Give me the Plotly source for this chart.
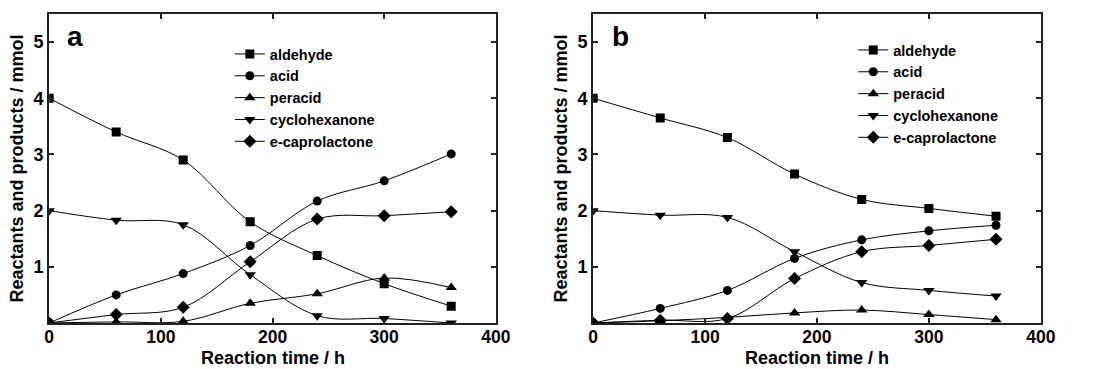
import plotly.graph_objects as go

time_h = [0, 60, 120, 180, 240, 300, 360]
series_names = ["aldehyde", "acid", "peracid", "cyclohexanone", "e-caprolactone"]

a_aldehyde = [4.0, 3.4, 2.9, 1.8, 1.2, 0.7, 0.3]
a_acid = [0.0, 0.5, 0.88, 1.38, 2.17, 2.53, 3.01]
a_peracid = [0.0, 0.02, 0.03, 0.35, 0.52, 0.8, 0.63]
a_cyclohexanone = [2.0, 1.83, 1.75, 0.86, 0.13, 0.08, 0.0]
a_caprolactone = [0.0, 0.15, 0.28, 1.09, 1.85, 1.91, 1.98]

b_aldehyde = [4.0, 3.65, 3.3, 2.65, 2.2, 2.04, 1.9]
b_acid = [0.0, 0.26, 0.58, 1.15, 1.48, 1.64, 1.74]
b_peracid = [0.0, 0.04, 0.1, 0.18, 0.23, 0.15, 0.06]
b_cyclohexanone = [2.0, 1.92, 1.88, 1.27, 0.72, 0.58, 0.48]
b_caprolactone = [0.0, 0.05, 0.08, 0.79, 1.27, 1.38, 1.49]

x_ticks = [0, 100, 200, 300, 400]
y_ticks = [1, 2, 3, 4, 5]

symbols = ["square", "circle", "triangle-up", "triangle-down", "diamond"]
sizes = [9, 9, 10, 10, 10]

FONT = "Liberation Sans, Arial, sans-serif"
TITLE_FONT = dict(family=FONT, size=18, color="black", weight="bold")

fig = go.Figure()

panels = [
    ("x", "y", "legend", [a_aldehyde, a_acid, a_peracid, a_cyclohexanone, a_caprolactone]),
    ("x2", "y2", "legend2", [b_aldehyde, b_acid, b_peracid, b_cyclohexanone, b_caprolactone]),
]
for xa, ya, lg, data in panels:
    for name, vals, sym, sz in zip(series_names, data, symbols, sizes):
        fig.add_trace(go.Scatter(
            x=time_h, y=vals, name=name, xaxis=xa, yaxis=ya, legend=lg,
            mode="lines+markers",
            line=dict(color="black", width=1, shape="spline", smoothing=1.0),
            marker=dict(symbol=sym, size=sz, color="black"),
        ))

ydom = [1 - 323 / 369, 1 - 14 / 369]
axis_common = dict(
    showline=True, linecolor="#222", linewidth=2, mirror="ticks",
    ticks="inside", ticklen=5, tickwidth=1.5, tickcolor="#222",
    showgrid=False, zeroline=False,
    tickfont=dict(family=FONT, size=18, color="black", weight="bold"),
)
xaxis_common = dict(axis_common, range=[0, 400], tickvals=x_ticks, ticklabelstandoff=-3,
                    tickfont=dict(family=FONT, size=17.5, color="black", weight="bold"))
yaxis_common = dict(axis_common, range=[0, 5.5], tickvals=y_ticks,
                    title=dict(text="Reactants and products / mmol", standoff=5,
                               font=TITLE_FONT))

legend_common = dict(
    font=dict(family=FONT, size=14.5, color="black", weight="bold"),
    bgcolor="rgba(0,0,0,0)", borderwidth=0, itemwidth=30,
    xanchor="left", yanchor="top", tracegroupgap=0,
)

xa_dom = [45 / 1098, 500 / 1098]
xb_dom = [599 / 1098, 1055 / 1098]

fig.update_layout(
    width=1098, height=369,
    margin=dict(l=0, r=0, t=0, b=0),
    paper_bgcolor="white", plot_bgcolor="white",
    font=dict(family=FONT, color="black"),
    xaxis=dict(xaxis_common, domain=xa_dom, anchor="y"),
    yaxis=dict(yaxis_common, domain=ydom, anchor="x"),
    xaxis2=dict(xaxis_common, domain=xb_dom, anchor="y2"),
    yaxis2=dict(yaxis_common, domain=ydom, anchor="x2"),
    legend=dict(legend_common, x=229 / 1098, y=1 - 38 / 369),
    legend2=dict(legend_common, x=864 / 1098, y=1 - 34 / 369),
    showlegend=True,
    annotations=[
        dict(text="a", x=14, y=5.1, xref="x", yref="y", showarrow=False,
             xanchor="left", yanchor="middle",
             font=dict(family=FONT, size=28, color="black", weight="bold")),
        dict(text="b", x=15, y=5.1, xref="x2", yref="y2", showarrow=False,
             xanchor="left", yanchor="middle",
             font=dict(family=FONT, size=28, color="black", weight="bold")),
        dict(text="Reaction time / h", x=sum(xa_dom) / 2, y=0,
             xref="paper", yref="paper", showarrow=False,
             xanchor="center", yanchor="bottom", yshift=-1, font=TITLE_FONT),
        dict(text="Reaction time / h", x=sum(xb_dom) / 2, y=0,
             xref="paper", yref="paper", showarrow=False,
             xanchor="center", yanchor="bottom", yshift=-1, font=TITLE_FONT),
    ],
)

fig.write_html("out.html")
